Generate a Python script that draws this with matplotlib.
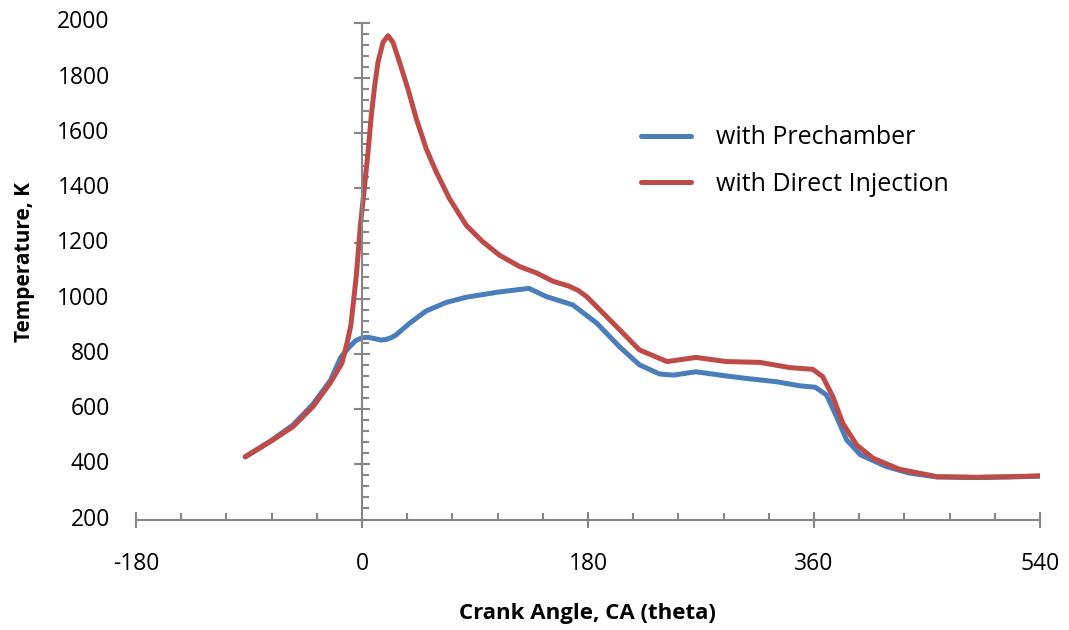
import matplotlib.pyplot as plt
import numpy as np

# crank angle (deg) and temperature (K)
ca_di = [-93, -73, -55, -39, -25.5, -16, -12, -9, -6.5, -4.5, -1.3, 2.1, 4.8, 7.4,
         10.1, 12.7, 16.7, 20.7, 24.7, 30, 36.6, 43.3, 51.2, 59.2, 69.8, 83.1, 96.4,
         109.6, 126, 139, 152, 165, 172, 179, 200, 221, 243, 266, 290,
         317, 341, 359, 367, 375, 383, 394, 407, 428, 458, 490, 516, 540]
temp_di = [427, 482, 536, 609, 693, 766, 838, 900, 1000, 1084, 1265, 1410, 1530, 1663,
           1771, 1855, 1928, 1952, 1928, 1855, 1759, 1651, 1542, 1458, 1361, 1265, 1205,
           1157, 1115, 1093, 1063, 1045, 1030, 1007, 911, 814, 772, 787, 772,
           769, 750, 744, 717, 645, 548, 470, 422, 382, 355, 353, 355, 358]

ca_pc = [-93, -73, -55, -39, -25, -17, -10, -5, 0, 5, 10, 15, 19, 23, 27, 38, 51, 67,
         83, 109, 133, 147, 168, 187, 205, 221, 237, 248, 266, 290, 306, 330, 349, 361,
         370, 378, 386, 397, 418, 436, 458, 490, 516, 540]
temp_pc = [427, 484, 542, 618, 705, 787, 825, 848, 858, 860, 855, 850, 852, 858, 868,
           911, 955, 986, 1005, 1024, 1037, 1007, 977, 911, 826, 760, 727, 723, 735,
           720, 711, 699, 684, 679, 651, 572, 488, 434, 391, 368, 354, 352, 354, 357]

x_major = [-180, 0, 180, 360, 540]
y_major = np.arange(200, 2001, 200)

plt.rcParams['font.family'] = ['Open Sans', 'DejaVu Sans']
plt.rcParams['axes.unicode_minus'] = False
axis_col = '#868686'

fig = plt.figure(figsize=(10.69, 6.30), dpi=100)
ax = fig.add_axes([136/1069, 1 - 519.5/630, 904/1069, 497/630])

ax.plot(ca_pc, temp_pc, color='#4A7EBB', lw=3.6, solid_capstyle='round',
        solid_joinstyle='round', label='with Prechamber')
ax.plot(ca_di, temp_di, color='#BE4B48', lw=3.6, solid_capstyle='round',
        solid_joinstyle='round', label='with Direct Injection')

ax.set_xlim(-180, 540)
ax.set_ylim(200, 2000)

for s in ['top', 'right']:
    ax.spines[s].set_visible(False)
ax.spines['left'].set_position(('data', 0))
for s in ['left', 'bottom']:
    ax.spines[s].set_color(axis_col)
    ax.spines[s].set_linewidth(1.5)

ax.set_xticks(x_major)
ax.set_xticks(np.arange(-180, 541, 36), minor=True)
ax.set_yticks(y_major)
ax.set_yticks(np.arange(200, 2001, 40), minor=True)
ax.tick_params(axis='x', which='major', direction='inout', length=11, width=1.5,
               color=axis_col, labelsize=16.5, pad=18)
ax.tick_params(axis='x', which='minor', direction='in', length=5, width=1.5,
               color=axis_col)
ax.tick_params(axis='y', which='major', direction='inout', length=11, width=1.5,
               color=axis_col, labelleft=False)
ax.tick_params(axis='y', which='minor', direction='in', length=5, width=1.5,
               color=axis_col)

# y labels sit at the left edge, not at the spine
for v in y_major:
    ax.text(-0.029, v, str(v), transform=ax.get_yaxis_transform(),
            ha='right', va='center', fontsize=16.5)

fig.text(587/1069, 1 - 613/630, 'Crank Angle, CA (theta)', ha='center', va='center',
         fontsize=16, fontweight='bold')
fig.text(25/1069, 1 - 262/630, 'Temperature, K', ha='center', va='center',
         rotation=90, fontsize=15, fontweight='bold')

ax.legend(loc='upper left', bbox_to_anchor=(618/1069, 1 - 103/630),
          bbox_transform=fig.transFigure, frameon=False, fontsize=18,
          handlelength=2.0, handletextpad=1.0, labelspacing=0.85)

fig.savefig('out.png', dpi=100)
